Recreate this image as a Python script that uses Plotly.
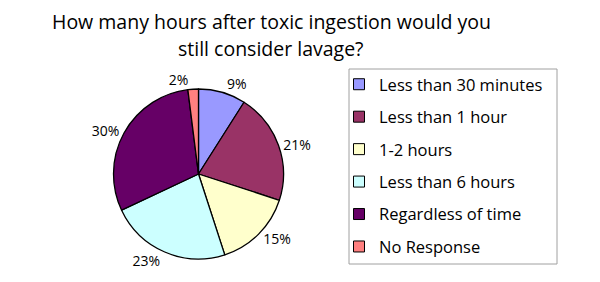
import plotly.graph_objects as go

labels = ["Less than 30 minutes", "Less than 1 hour", "1-2 hours",
          "Less than 6 hours", "Regardless of time", "No Response"]
values = [9, 21, 15, 23, 30, 2]
colors = ["#9999FF", "#993366", "#FFFFCC", "#CCFFFF", "#660066", "#FF8080"]
title_lines = ["How many hours after toxic ingestion would you", "still consider lavage?"]

W, H = 600, 282
cx, cy, r = 198.5, 174, 85

fig = go.Figure()
fig.add_trace(go.Pie(
    labels=labels, values=values, sort=False, direction="clockwise", rotation=0,
    marker=dict(colors=colors, line=dict(color="black", width=1.3)),
    textinfo="percent", textposition="outside", texttemplate="%{percent:.0%}",
    textfont=dict(family="Open Sans", size=14, color="black"),
    showlegend=False, hoverinfo="label+percent",
    domain=dict(x=[(cx - r) / W, (cx + r) / W], y=[(H - cy - r) / H, (H - cy + r) / H]),
))
for lab, col in zip(labels, colors):
    fig.add_trace(go.Scatter(
        x=[None], y=[None], mode="markers", name=lab, legendgroup=lab,
        marker=dict(symbol="square", size=11, color=col, line=dict(color="black", width=1)),
    ))

title_y = [21, 48]
annotations = [dict(text=t, x=271 / W, y=1 - yy / H, xref="paper", yref="paper",
                    xanchor="center", yanchor="middle", showarrow=False,
                    font=dict(family="Open Sans", size=19.5, color="black"))
               for t, yy in zip(title_lines, title_y)]

fig.update_layout(
    width=W, height=H, margin=dict(l=0, r=0, t=0, b=0),
    paper_bgcolor="white", plot_bgcolor="white",
    xaxis=dict(visible=False), yaxis=dict(visible=False),
    annotations=annotations,
    shapes=[dict(type="rect", xref="paper", yref="paper",
                 x0=349 / W, x1=557 / W, y0=1 - 264 / H, y1=1 - 69 / H,
                 line=dict(color="#A0A0A0", width=1), fillcolor="rgba(0,0,0,0)", layer="below")],
    legend=dict(x=339 / W, xanchor="left", y=1 - 67 / H, yanchor="top",
                borderwidth=0, bgcolor="rgba(0,0,0,0)",
                font=dict(family="Open Sans", size=16.5, color="black"),
                tracegroupgap=8, itemwidth=30),
    showlegend=True,
)
fig.write_html("out.html", config={"displayModeBar": False},
               post_script="document.body.style.margin='0';")
